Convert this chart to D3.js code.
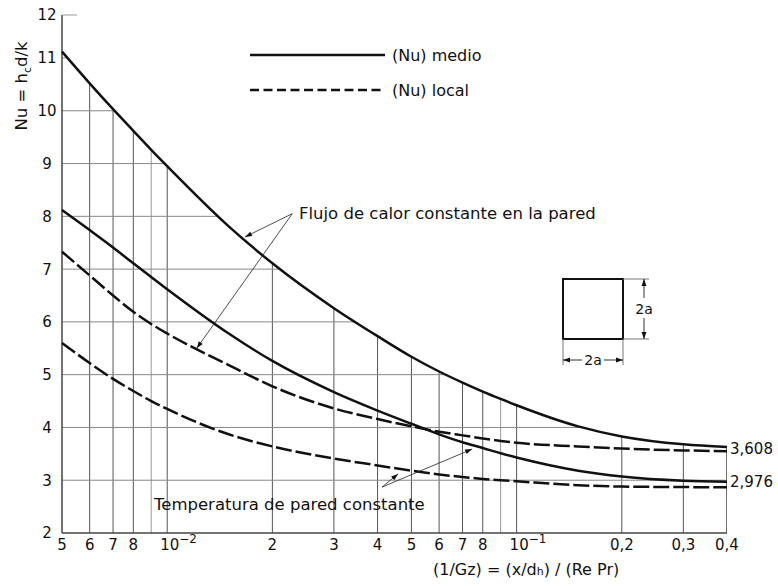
<!DOCTYPE html>
<html>
<head>
<meta charset="utf-8">
<script src="https://cdn.jsdelivr.net/npm/d3@7"></script>
<style>
  body { margin: 0; background: #fff; }
  text { font-family: "DejaVu Sans", Verdana, sans-serif; fill: #111; }
</style>
</head>
<body>
<div id="chart"></div>
<script>
var xs = [0.005, 0.006, 0.007, 0.008, 0.009, 0.01, 0.015, 0.02, 0.03, 0.04,
          0.05, 0.06, 0.07, 0.08, 0.09, 0.1, 0.15, 0.2, 0.3, 0.4];
// Nu curves
var fluxMean  = [11.12, 10.52, 10.03, 9.62, 9.26, 8.95, 7.81, 7.11, 6.26, 5.73,
                 5.34, 5.06, 4.85, 4.68, 4.54, 4.42, 4.02, 3.83, 3.68, 3.63];
var tempMean  = [8.12, 7.74, 7.41, 7.11, 6.85, 6.62, 5.78, 5.26, 4.67, 4.32,
                 4.07, 3.87, 3.72, 3.61, 3.51, 3.43, 3.18, 3.07, 2.99, 2.97];
var fluxLocal = [7.33, 6.88, 6.50, 6.19, 5.96, 5.78, 5.18, 4.78, 4.36, 4.16,
                 4.02, 3.92, 3.85, 3.79, 3.745, 3.71, 3.64, 3.60, 3.565, 3.55];
var tempLocal = [5.60, 5.22, 4.92, 4.69, 4.50, 4.35, 3.87, 3.64, 3.41, 3.28,
                 3.18, 3.11, 3.06, 3.025, 3.00, 2.98, 2.905, 2.88, 2.87, 2.865];

// ticks
var xTickVals   = [0.005, 0.006, 0.007, 0.008, 0.01, 0.02, 0.03, 0.04, 0.05, 0.06, 0.07, 0.08, 0.1, 0.2, 0.3, 0.4];
var xTickLabels = ["5", "6", "7", "8", "10^-2", "2", "3", "4", "5", "6", "7", "8", "10^-1", "0,2", "0,3", "0,4"];
var xGridVals   = [0.006, 0.007, 0.008, 0.009, 0.01, 0.02, 0.03, 0.04, 0.05, 0.06, 0.07, 0.08, 0.09, 0.1, 0.2, 0.3, 0.4];
var yTickVals   = [2, 3, 4, 5, 6, 7, 8, 9, 10, 11];
var yGridVals   = [3, 4, 5, 6, 7, 8, 9, 10, 11];
var limitLabels = [{v: 3.608, t: "3,608"}, {v: 2.976, t: "2,976"}];

var W = 778, H = 586;

var svg = d3.select("#chart")
  .append("svg")
    .attr("width", W)
    .attr("height", H);

var x = d3.scaleLog().domain([0.005, 0.4]).range([62, 727]);
var y = d3.scaleLinear().domain([2, 11]).range([533, 58]);
var axisTop = 15;

// arrow heads
var defs = svg.append("defs");
defs.append("marker")
    .attr("id", "arr")
    .attr("viewBox", "0 0 10 10")
    .attr("refX", 10).attr("refY", 5)
    .attr("markerWidth", 9).attr("markerHeight", 7)
    .attr("markerUnits", "userSpaceOnUse")
    .attr("orient", "auto")
  .append("path")
    .attr("d", "M0,1.5 L10,5 L0,8.5 Z")
    .attr("fill", "#111");

// grid only lives under the top curve
var under = d3.area()
  .x(function (d, i) { return x(xs[i]); })
  .y0(y(2))
  .y1(function (d) { return y(d); })
  .curve(d3.curveMonotoneX);

defs.append("clipPath").attr("id", "under")
  .append("path")
    .attr("d", under(fluxMean));

var grid = svg.append("g").attr("clip-path", "url(#under)");

grid.selectAll(".vg")
  .data(xGridVals)
  .enter()
  .append("line")
    .attr("x1", function (d) { return x(d); })
    .attr("x2", function (d) { return x(d); })
    .attr("y1", y(2))
    .attr("y2", axisTop)
    .attr("stroke", function (d) { return (d === 0.009 || d === 0.09) ? "#999" : (d === 0.4 ? "#333" : "#555"); })
    .attr("stroke-width", function (d) { return d === 0.4 ? 1.4 : 1; });

grid.selectAll(".hg")
  .data(yGridVals)
  .enter()
  .append("line")
    .attr("x1", x(0.005))
    .attr("x2", x(0.4))
    .attr("y1", function (d) { return y(d); })
    .attr("y2", function (d) { return y(d); })
    .attr("stroke", "#888")
    .attr("stroke-width", 1);

// axes lines
svg.append("line")
    .attr("x1", x(0.005)).attr("x2", x(0.005))
    .attr("y1", y(2)).attr("y2", axisTop)
    .attr("stroke", "#444").attr("stroke-width", 1.5);
svg.append("line")
    .attr("x1", x(0.005)).attr("x2", x(0.4))
    .attr("y1", y(2)).attr("y2", y(2))
    .attr("stroke", "#444").attr("stroke-width", 1.5);
svg.append("line")
    .attr("x1", x(0.005)).attr("x2", x(0.005) + 15)
    .attr("y1", axisTop).attr("y2", axisTop)
    .attr("stroke", "#999").attr("stroke-width", 1);

// y tick labels
svg.selectAll(".yl")
  .data(yTickVals)
  .enter()
  .append("text")
    .attr("x", 47)
    .attr("y", function (d) { return y(d); })
    .attr("dy", "0.36em")
    .attr("text-anchor", "middle")
    .attr("font-size", 15)
    .text(function (d) { return d; });
svg.append("text")
    .attr("x", 47).attr("y", axisTop).attr("dy", "0.36em")
    .attr("text-anchor", "middle").attr("font-size", 15)
    .text("12");

// x tick labels
var xl = svg.selectAll(".xl")
  .data(xTickVals)
  .enter()
  .append("text")
    .attr("x", function (d, i) { return xTickLabels[i].indexOf("^") > 0 ? x(d) - 7 : x(d); })
    .attr("y", 550)
    .attr("text-anchor", function (d, i) { return xTickLabels[i].indexOf("^") > 0 ? "start" : "middle"; })
    .attr("font-size", 15);
xl.each(function (d, i) {
  var parts = xTickLabels[i].split("^");
  var t = d3.select(this);
  t.append("tspan").text(parts[0]);
  if (parts.length > 1) {
    t.append("tspan").attr("dy", -7).attr("font-size", 12).text(parts[1].replace("-", "\u2212"));
  }
});

// axis titles
var yt = svg.append("text")
    .attr("transform", "translate(27,86) rotate(-90)")
    .attr("text-anchor", "middle")
    .attr("font-size", 16.5);
yt.append("tspan").text("Nu = h");
yt.append("tspan").attr("font-size", 11).attr("dy", 4).text("c");
yt.append("tspan").attr("dy", -4).text("d/k");

var xt = svg.append("text")
    .attr("x", 433).attr("y", 575)
    .attr("font-size", 16);
xt.append("tspan").text("(1/Gz) = (x/d");
xt.append("tspan").attr("font-size", 11).text("h");
xt.append("tspan").text(") / (Re Pr)");

// curves
var line = d3.line()
  .x(function (d, i) { return x(xs[i]); })
  .y(function (d) { return y(d); })
  .curve(d3.curveMonotoneX);

var series = [
  {v: fluxMean,  dash: null},
  {v: tempMean,  dash: null},
  {v: fluxLocal, dash: "16,4"},
  {v: tempLocal, dash: "16,4"}
];
svg.selectAll(".curve")
  .data(series)
  .enter()
  .append("path")
    .attr("d", function (d) { return line(d.v); })
    .attr("fill", "none")
    .attr("stroke", "#111")
    .attr("stroke-width", 2.5)
    .attr("stroke-dasharray", function (d) { return d.dash; });

// asymptote labels
svg.selectAll(".lim")
  .data(limitLabels)
  .enter()
  .append("text")
    .attr("x", 730)
    .attr("y", function (d) { return y(d.v); })
    .attr("dy", "0.36em")
    .attr("font-size", 15)
    .text(function (d) { return d.t; });

// legend
svg.append("line").attr("x1", 250).attr("x2", 385).attr("y1", 55).attr("y2", 55)
    .attr("stroke", "#111").attr("stroke-width", 2.5);
svg.append("line").attr("x1", 250).attr("x2", 385).attr("y1", 90).attr("y2", 90)
    .attr("stroke", "#111").attr("stroke-width", 2.5).attr("stroke-dasharray", "9,4.5");
svg.append("text").attr("x", 392).attr("y", 60.5).attr("font-size", 16).text("(Nu) medio");
svg.append("text").attr("x", 392).attr("y", 95.5).attr("font-size", 16).text("(Nu) local");

// annotations (data coordinates)
var fluxFrom = [0.0228, 8.05], fluxTips = [[0.0167, 7.61], [0.01215, 5.50]];
var tempFrom = [0.0412, 2.87], tempTips = [[0.0458, 3.12], [0.0746, 3.59]];

function arrows(from, tips) {
  svg.selectAll(null)
    .data(tips)
    .enter()
    .append("line")
      .attr("x1", x(from[0])).attr("y1", y(from[1]))
      .attr("x2", function (d) { return x(d[0]); })
      .attr("y2", function (d) { return y(d[1]); })
      .attr("stroke", "#222").attr("stroke-width", 0.8)
      .attr("marker-end", "url(#arr)");
}
arrows(fluxFrom, fluxTips);
arrows(tempFrom, tempTips);

svg.append("text").attr("x", 299).attr("y", 218.5).attr("font-size", 16.5)
    .text("Flujo de calor constante en la pared");
svg.append("text").attr("x", 154).attr("y", 509.5).attr("font-size", 16.5)
    .text("Temperatura de pared constante");

// duct cross section
var sq = svg.append("g").attr("transform", "translate(563,279)");
var s = 60;
sq.append("rect").attr("width", s).attr("height", s)
    .attr("fill", "none").attr("stroke", "#111").attr("stroke-width", 2);
sq.append("line").attr("x1", s).attr("x2", s + 26).attr("y1", 0).attr("y2", 0).attr("stroke", "#777");
sq.append("line").attr("x1", s).attr("x2", s + 26).attr("y1", s).attr("y2", s).attr("stroke", "#777");
sq.append("line").attr("x1", 0).attr("x2", 0).attr("y1", s).attr("y2", s + 26).attr("stroke", "#777");
sq.append("line").attr("x1", s).attr("x2", s).attr("y1", s).attr("y2", s + 26).attr("stroke", "#777");
// vertical dimension
sq.append("line").attr("x1", s + 21).attr("x2", s + 21).attr("y1", 19).attr("y2", 0)
    .attr("stroke", "#333").attr("marker-end", "url(#arr)");
sq.append("line").attr("x1", s + 21).attr("x2", s + 21).attr("y1", 39).attr("y2", s)
    .attr("stroke", "#333").attr("marker-end", "url(#arr)");
sq.append("text").attr("x", s + 21).attr("y", 30).attr("dy", "0.36em")
    .attr("text-anchor", "middle").attr("font-size", 14).text("2a");
// horizontal dimension
sq.append("line").attr("x1", 19).attr("x2", 0).attr("y1", s + 21).attr("y2", s + 21)
    .attr("stroke", "#333").attr("marker-end", "url(#arr)");
sq.append("line").attr("x1", 41).attr("x2", s).attr("y1", s + 21).attr("y2", s + 21)
    .attr("stroke", "#333").attr("marker-end", "url(#arr)");
sq.append("text").attr("x", 30).attr("y", s + 21).attr("dy", "0.36em")
    .attr("text-anchor", "middle").attr("font-size", 14).text("2a");
</script>
</body>
</html>
